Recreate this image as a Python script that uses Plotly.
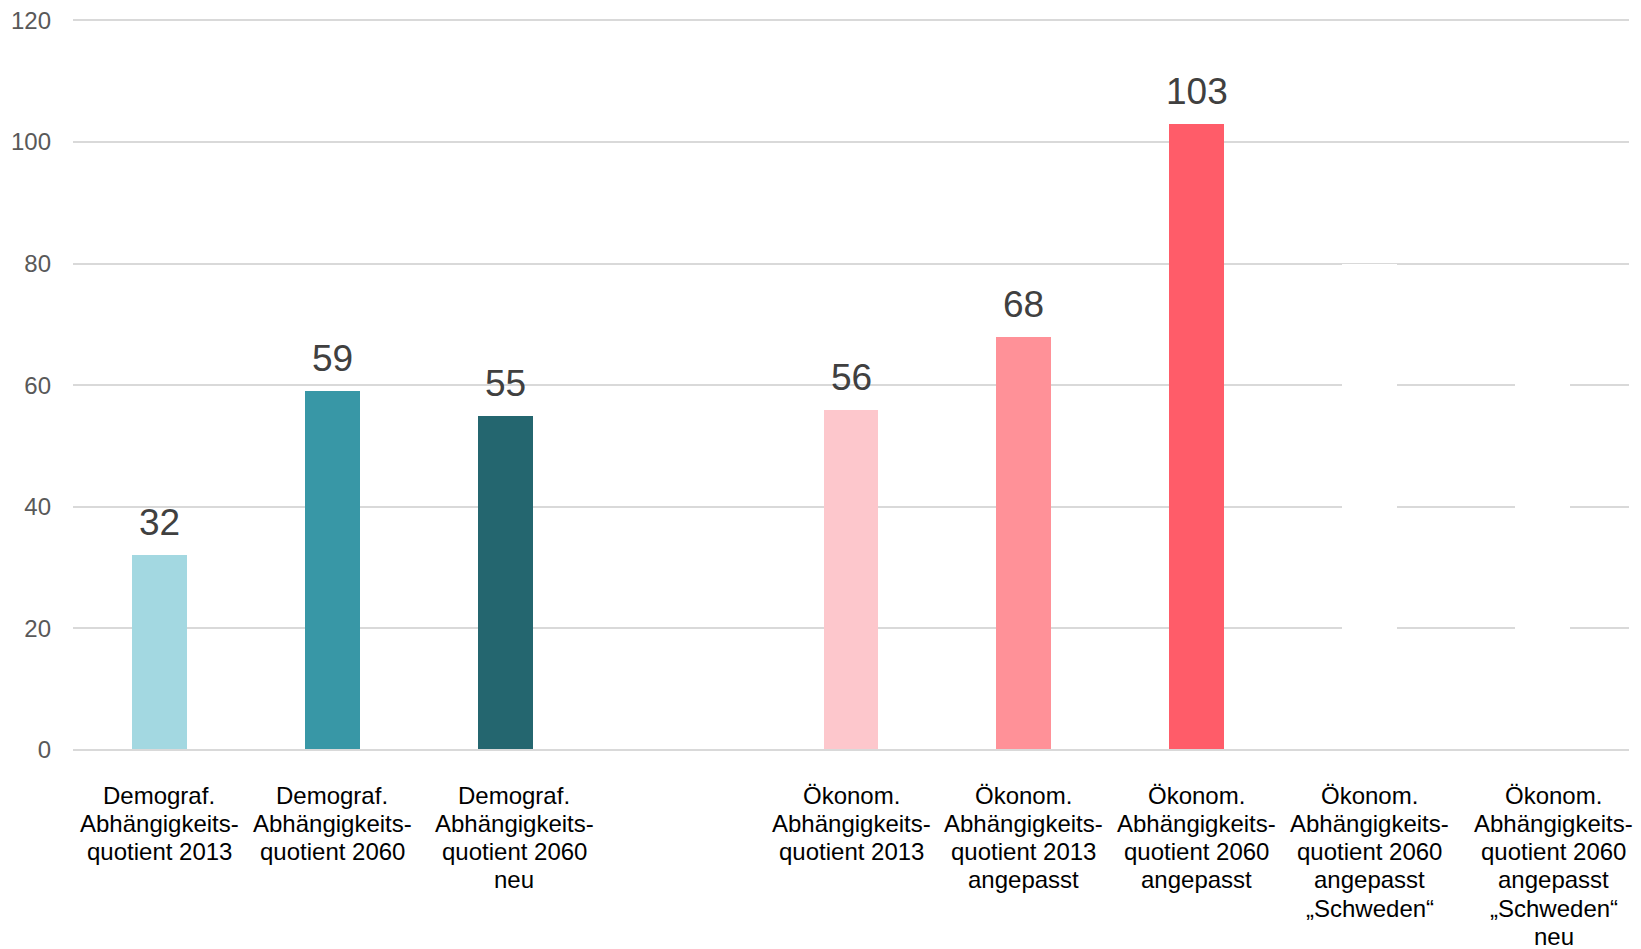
import plotly.graph_objects as go

# Abhängigkeitsquotienten (Werte je Kategorie)
categories = [
    "Demograf. Abhängigkeitsquotient 2013",
    "Demograf. Abhängigkeitsquotient 2060",
    "Demograf. Abhängigkeitsquotient 2060 neu",
    " ",
    "Ökonom. Abhängigkeitsquotient 2013",
    "Ökonom. Abhängigkeitsquotient 2013 angepasst",
    "Ökonom. Abhängigkeitsquotient 2060 angepasst",
    "Ökonom. Abhängigkeitsquotient 2060 angepasst „Schweden“",
    "Ökonom. Abhängigkeitsquotient 2060 angepasst „Schweden“ neu",
]
category_lines = [
    ["Demograf.", "Abhängigkeits-", "quotient 2013"],
    ["Demograf.", "Abhängigkeits-", "quotient 2060"],
    ["Demograf.", "Abhängigkeits-", "quotient 2060", "neu"],
    [],
    ["Ökonom.", "Abhängigkeits-", "quotient 2013"],
    ["Ökonom.", "Abhängigkeits-", "quotient 2013", "angepasst"],
    ["Ökonom.", "Abhängigkeits-", "quotient 2060", "angepasst"],
    ["Ökonom.", "Abhängigkeits-", "quotient 2060", "angepasst", "„Schweden“"],
    ["Ökonom.", "Abhängigkeits-", "quotient 2060", "angepasst", "„Schweden“", "neu"],
]
values = [32, 59, 55, None, 56, 68, 103, 80, 70]
colors = ["#A3D8E1", "#3897A6", "#24666F", "#FFFFFF",
          "#FDC7CC", "#FF9198", "#FF5C69", "#FFFFFF", "#FFFFFF"]
show_label = [True, True, True, False, True, True, True, False, False]
label_xshift = [0, 0, 9, 0, 0, 0, 0, 0, 11]
y_ticks = [0, 20, 40, 60, 80, 100, 120]

FONT = "Liberation Sans, Arial, sans-serif"
GRID = "#D9D9D9"
LINE_STEP = 28.3   # px between category label lines
FIRST_LINE = 45    # px from axis to centre of first label line

fig = go.Figure()
fig.add_trace(go.Bar(
    x=categories,
    y=values,
    marker=dict(color=colors, line=dict(width=0)),
    width=0.318,
    hoverinfo="skip",
))

# value labels above the bars
for cat, val, show in zip(categories, values, show_label):
    if show:
        fig.add_annotation(
            x=cat, y=val, text=str(val), showarrow=False,
            yanchor="bottom", yshift=10,
            font=dict(family=FONT, size=37, color="#404040"),
        )

# multi-line category labels under the axis
for cat, lines, dx in zip(categories, category_lines, label_xshift):
    for i, line in enumerate(lines):
        fig.add_annotation(
            x=cat, xref="x", y=0, yref="paper",
            text=line, showarrow=False,
            xanchor="center", yanchor="middle",
            xshift=dx, yshift=-(FIRST_LINE + i * LINE_STEP),
            font=dict(family=FONT, size=24, color="#000000"),
        )

# baseline drawn on top of the bars
fig.add_shape(
    type="line", xref="paper", x0=0, x1=1, yref="y", y0=0, y1=0,
    layer="above", line=dict(color=GRID, width=2),
)

fig.update_layout(
    width=1641, height=949,
    margin=dict(l=73, r=12, t=18, b=199),
    paper_bgcolor="white", plot_bgcolor="white",
    showlegend=False,
    bargap=0,
    font=dict(family=FONT),
)
fig.update_xaxes(
    type="category",
    categoryorder="array", categoryarray=categories,
    range=[-0.5, len(categories) - 0.5],
    autorange=False,
    showticklabels=False,
    showgrid=False, showline=False, ticks="",
    automargin=False,
)
fig.update_yaxes(
    range=[0, 120.4],
    autorange=False,
    tickvals=y_ticks,
    tickfont=dict(size=24, color="#595959"),
    showgrid=True, gridcolor=GRID, gridwidth=2,
    zeroline=True, zerolinecolor=GRID, zerolinewidth=2,
    showline=False, ticks="",
    ticklabelstandoff=21,
    automargin=False,
)

fig.write_html("out.html")
